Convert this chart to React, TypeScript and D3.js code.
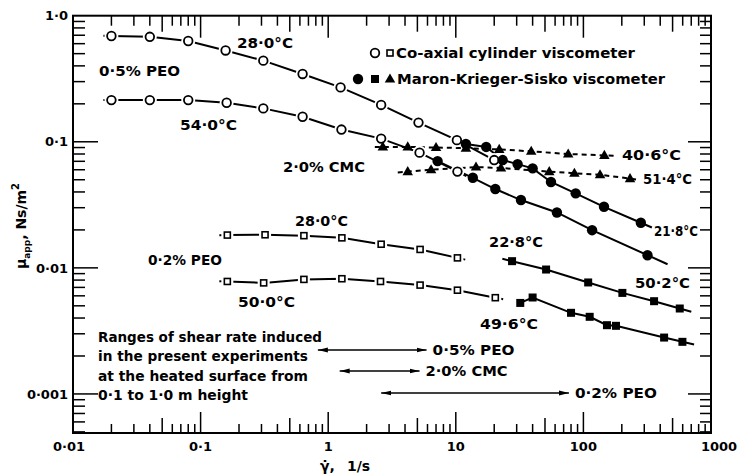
import React, { useRef, useEffect } from 'react';
import * as d3 from 'd3';

// shear rate (1/s) and apparent viscosity (Ns/m^2)

// 0.5% PEO, co-axial cylinder viscometer (open circles)
const peo05T28Rate = [0.02, 0.04, 0.08, 0.157, 0.31, 0.63, 1.25, 2.6, 5.1, 10.2, 20];
const peo05T28Mu = [0.69, 0.68, 0.63, 0.53, 0.44, 0.345, 0.27, 0.196, 0.142, 0.103, 0.0716];
const peo05T54Rate = [0.02, 0.04, 0.08, 0.16, 0.31, 0.63, 1.27, 2.6, 5.2, 10.3];
const peo05T54Mu = [0.214, 0.214, 0.214, 0.204, 0.184, 0.158, 0.125, 0.106, 0.082, 0.058];

// 0.5% PEO, Maron-Krieger-Sisko viscometer (filled circles)
const peo05T218Rate = [12, 17.3, 23.3, 30.5, 40, 55.7, 87, 145, 282];
const peo05T218Mu = [0.096, 0.091, 0.0716, 0.0665, 0.0615, 0.048, 0.039, 0.0305, 0.0228];
const peo05T502Rate = [7.2, 13.6, 20.4, 32.4, 62, 117, 318];
const peo05T502Mu = [0.0703, 0.0518, 0.0422, 0.0345, 0.0275, 0.0199, 0.0126];

// 2.0% CMC, Maron-Krieger-Sisko viscometer (filled triangles)
const cmcT406Rate = [2.68, 4.2, 7.0, 12.0, 21.9, 39, 76, 146];
const cmcT406Mu = [0.091, 0.091, 0.09, 0.089, 0.087, 0.084, 0.08, 0.078];
const cmcT514Rate = [4.2, 6.4, 14.4, 22.6, 54, 85, 135, 232];
const cmcT514Mu = [0.058, 0.06, 0.063, 0.062, 0.058, 0.0563, 0.0548, 0.051];

// 0.2% PEO, co-axial cylinder viscometer (open squares)
const peo02T28Rate = [0.162, 0.32, 0.645, 1.28, 2.6, 5.25, 10.3];
const peo02T28Mu = [0.0182, 0.0183, 0.018, 0.0173, 0.0154, 0.014, 0.012];
const peo02T50Rate = [0.162, 0.312, 0.645, 1.28, 2.57, 5.25, 10.3, 20.4];
const peo02T50Mu = [0.0078, 0.0076, 0.0081, 0.0082, 0.0078, 0.0073, 0.00665, 0.0058];

// 0.2% PEO, Maron-Krieger-Sisko viscometer (filled squares)
const peo02T228Rate = [27.6, 51, 109, 202, 358, 569];
const peo02T228Mu = [0.0113, 0.0097, 0.00766, 0.00633, 0.00544, 0.00476];
const peo02T496Rate = [32, 40, 80, 112, 153, 180, 429, 597];
const peo02T496Mu = [0.00527, 0.00582, 0.0044, 0.00409, 0.00351, 0.00347, 0.0028, 0.00259];

// shear rate ranges at the heated surface
const rangeNames = ['0·5% PEO', '2·0% CMC', '0·2% PEO'];
const rangeLow = [0.83, 1.23, 2.6];
const rangeHigh = [5.9, 5.2, 77];

const xDecades = [0.01, 0.1, 1, 10, 100, 1000];
const xTickLabels = ['0·01', '0·1', '1', '10', '100', '1000'];
const yDecades = [1, 0.1, 0.01, 0.001];
const yTickLabels = ['1·0', '0·1', '0·01', '0·001'];

const FONT = 'DejaVu Sans';

const App = () => {
  const svgRef = useRef<SVGSVGElement>(null);

  useEffect(() => {
    const svg = d3.select(svgRef.current);
    svg.selectAll('*').remove();
    svg.attr('font-family', FONT).attr('font-weight', 'bold');

    const left = 73;
    const right = 711;
    const top = 15.7;
    const bottom = 433;

    const x = d3.scaleLog().domain([0.01, 1000]).range([left, right]);
    const y = d3.scaleLog().domain([0.00049, 1]).range([bottom, top]);

    // frame
    svg
      .append('rect')
      .attr('x', left)
      .attr('y', top)
      .attr('width', right - left)
      .attr('height', bottom - top)
      .attr('fill', 'none')
      .attr('stroke', '#000')
      .attr('stroke-width', 2);

    const ticks = svg.append('g').attr('stroke', '#000').attr('stroke-width', 1.5);

    // x ticks, pointing inward on bottom and top
    xDecades.slice(0, -1).forEach((d) => {
      for (let k = 1; k <= 9; k++) {
        const v = k * d;
        if (v <= 0.01) continue;
        const px = x(v);
        const lb = k === 1 ? 21 : k === 5 ? 15 : 9;
        const lt = k === 1 ? 22 : k === 5 ? 16 : 10;
        ticks.append('line').attr('x1', px).attr('x2', px).attr('y1', bottom).attr('y2', bottom - lb);
        ticks.append('line').attr('x1', px).attr('x2', px).attr('y1', top).attr('y2', top + lt);
      }
    });

    // y ticks, pointing inward on left and right
    [0.0001, 0.001, 0.01, 0.1].forEach((d) => {
      for (let k = 1; k <= 9; k++) {
        const v = k * d;
        if (v < 0.0005 || v >= 1) continue;
        const py = y(v);
        const ll = k === 1 ? 25 : 12;
        const lr = k === 1 ? 23 : 11;
        ticks.append('line').attr('x1', left).attr('x2', left + ll).attr('y1', py).attr('y2', py);
        ticks.append('line').attr('x1', right).attr('x2', right - lr).attr('y1', py).attr('y2', py);
      }
    });

    // tick labels
    const xShift = [-4, 0, 0, 0, 0, 8];
    xDecades.forEach((d, i) => {
      svg
        .append('text')
        .attr('x', x(d) + xShift[i])
        .attr('y', 446)
        .attr('dy', '0.36em')
        .attr('text-anchor', 'middle')
        .attr('font-size', 13)
        .text(xTickLabels[i]);
    });
    yDecades.forEach((d, i) => {
      svg
        .append('text')
        .attr('x', 68)
        .attr('y', y(d))
        .attr('dy', '0.36em')
        .attr('text-anchor', 'end')
        .attr('font-size', 13)
        .text(yTickLabels[i]);
    });

    // axis titles
    const yTitle = svg
      .append('text')
      .attr('transform', 'translate(26,226) rotate(-90)')
      .attr('text-anchor', 'middle')
      .attr('font-size', 14);
    yTitle.append('tspan').text('μ');
    yTitle.append('tspan').attr('font-size', 9).attr('dy', 4).text('app');
    yTitle.append('tspan').attr('dy', -4).text(', Ns/m');
    yTitle.append('tspan').attr('font-size', 10).attr('dy', -7).text('2');

    svg.append('text').attr('x', 320).attr('y', 471).attr('font-size', 14).text('γ\u0307,');
    svg.append('text').attr('x', 347).attr('y', 471).attr('font-size', 14).text('1/s');

    // series
    type Kind = 'circle' | 'square' | 'triangle';

    const marker = (g, kind: Kind, filled: boolean, cx: number, cy: number) => {
      if (kind === 'circle') {
        if (!filled) {
          g.append('circle').attr('cx', cx).attr('cy', cy).attr('r', 7).attr('fill', '#fff');
          g.append('circle')
            .attr('cx', cx)
            .attr('cy', cy)
            .attr('r', 4.3)
            .attr('fill', '#fff')
            .attr('stroke', '#000')
            .attr('stroke-width', 1.8);
        } else {
          g.append('circle').attr('cx', cx).attr('cy', cy).attr('r', 5.2).attr('fill', '#000');
        }
      } else if (kind === 'square') {
        if (!filled) {
          g.append('rect').attr('x', cx - 6).attr('y', cy - 6).attr('width', 12).attr('height', 12).attr('fill', '#fff');
          g.append('rect')
            .attr('x', cx - 3)
            .attr('y', cy - 3)
            .attr('width', 6)
            .attr('height', 6)
            .attr('fill', '#fff')
            .attr('stroke', '#000')
            .attr('stroke-width', 1.6);
        } else {
          g.append('rect').attr('x', cx - 4).attr('y', cy - 4).attr('width', 8).attr('height', 8).attr('fill', '#000');
        }
      } else {
        g.append('path')
          .attr('d', d3.symbol(d3.symbolTriangle, 48)())
          .attr('transform', `translate(${cx},${cy + 0.5})`)
          .attr('fill', '#000');
      }
    };

    const series = (
      rates: number[],
      mus: number[],
      kind: Kind,
      filled: boolean,
      lead: number,
      tail: number,
      dash: string | null,
    ) => {
      const pts = rates.map((r, i) => [x(r), y(mus[i])] as [number, number]);
      const ext = (a: [number, number], b: [number, number], len: number): [number, number] => {
        const dx = a[0] - b[0];
        const dy = a[1] - b[1];
        const n = Math.hypot(dx, dy) || 1;
        return [a[0] + (dx / n) * len, a[1] + (dy / n) * len];
      };
      const path = [...pts];
      if (lead > 0) path.unshift(ext(pts[0], pts[1], lead));
      if (tail > 0) path.push(ext(pts[pts.length - 1], pts[pts.length - 2], tail));
      const line = d3.line();
      const p = svg
        .append('path')
        .attr('d', line(path))
        .attr('fill', 'none')
        .attr('stroke', '#000')
        .attr('stroke-width', 2);
      if (dash) p.attr('stroke-dasharray', dash);
      return { pts, kind, filled };
    };

    const drawn = [
      series(peo05T28Rate, peo05T28Mu, 'circle', false, 8, 0, null),
      series(peo05T54Rate, peo05T54Mu, 'circle', false, 8, 10, null),
      series(peo05T218Rate, peo05T218Mu, 'circle', true, 0, 12, null),
      series(peo05T502Rate, peo05T502Mu, 'circle', true, 0, 22, null),
      series(cmcT406Rate, cmcT406Mu, 'triangle', true, 8, 10, '5,4'),
      series(cmcT514Rate, cmcT514Mu, 'triangle', true, 10, 8, '5,4'),
      series(peo02T28Rate, peo02T28Mu, 'square', false, 8, 8, null),
      series(peo02T50Rate, peo02T50Mu, 'square', false, 8, 8, null),
      series(peo02T228Rate, peo02T228Mu, 'square', true, 10, 12, null),
      series(peo02T496Rate, peo02T496Mu, 'square', true, 0, 12, null),
    ];
    const marks = svg.append('g');
    drawn.forEach((s) => s.pts.forEach(([px, py]) => marker(marks, s.kind, s.filled, px, py)));

    // annotation text, stretched to the widths in the figure
    const label = (str: string, x0: number, x1: number, cy: number, size = 14) =>
      svg
        .append('text')
        .attr('x', x0)
        .attr('y', cy)
        .attr('dy', '0.36em')
        .attr('font-size', size)
        .attr('textLength', x1 - x0)
        .attr('lengthAdjust', 'spacingAndGlyphs')
        .text(str);

    label('28·0°C', 237, 293, 43);
    label('0·5% PEO', 99, 180, 71);
    label('54·0°C', 180, 237, 125);
    label('2·0% CMC', 283, 365, 167);
    label('28·0°C', 295, 348, 221);
    label('0·2% PEO', 148, 222, 260);
    label('50·0°C', 238, 295, 302);
    label('22·8°C', 489, 543, 242);
    label('49·6°C', 480, 538, 324);
    label('21·8°C', 654, 698, 231);
    label('50·2°C', 635, 690, 283);
    label('40·6°C', 622, 681, 155);
    label('51·4°C', 643, 692, 179);

    // legend
    marker(marks, 'circle', false, 375, 53);
    marker(marks, 'square', false, 390, 53);
    label('Co-axial cylinder viscometer', 396, 635, 53);
    marker(marks, 'circle', true, 358, 79);
    marker(marks, 'square', true, 375, 79);
    marker(marks, 'triangle', true, 390, 79);
    label('Maron-Krieger-Sisko viscometer', 397, 665, 79);

    // note on shear rate ranges
    label('Ranges of shear rate induced', 98, 322, 337);
    label('in the present experiments', 98, 308, 356);
    label('at the heated surface from', 98, 308, 376);
    label('0·1 to 1·0 m height', 98, 248, 395);

    const rangeY = [350, 371, 393];
    const defs = svg.append('defs');
    defs
      .append('marker')
      .attr('id', 'arrowHead')
      .attr('viewBox', '0 0 10 6')
      .attr('refX', 10)
      .attr('refY', 3)
      .attr('markerWidth', 10)
      .attr('markerHeight', 6)
      .attr('markerUnits', 'userSpaceOnUse')
      .attr('orient', 'auto-start-reverse')
      .append('path')
      .attr('d', 'M0,0.6L10,3L0,5.4Z')
      .attr('fill', '#000');
    rangeNames.forEach((name, i) => {
      const x0 = x(rangeLow[i]);
      const x1 = x(rangeHigh[i]);
      svg
        .append('line')
        .attr('x1', x0)
        .attr('x2', x1)
        .attr('y1', rangeY[i])
        .attr('y2', rangeY[i])
        .attr('stroke', '#000')
        .attr('stroke-width', 1.3)
        .attr('marker-start', 'url(#arrowHead)')
        .attr('marker-end', 'url(#arrowHead)');
      label(name, x1 + 6, x1 + 88, rangeY[i]);
    });
  }, []);

  return (
    <svg
      ref={svgRef}
      width={738}
      height={475}
      viewBox="0 0 738 475"
      style={{ position: 'absolute', left: 0, top: 0, background: '#fff' }}
    />
  );
};

export default App;
